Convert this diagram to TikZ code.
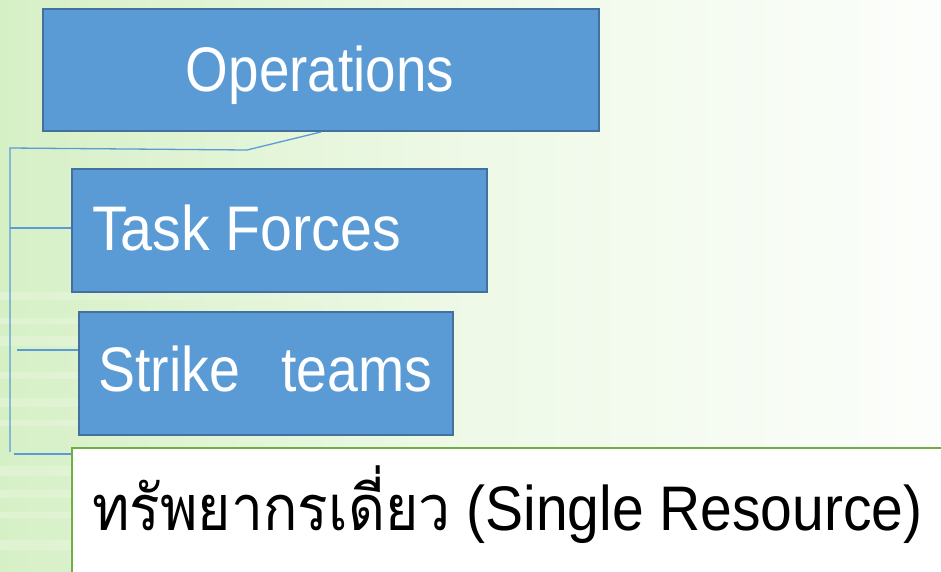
\documentclass[tikz,border=0pt]{standalone}
\usepackage{fontspec}
\setmainfont{Liberation Sans}
\newfontfamily\thaifont[Script=Thai]{Loma}
\usetikzlibrary{fadings}
\definecolor{boxblue}{HTML}{5B9BD5}
\definecolor{boxedge}{HTML}{41719C}
\definecolor{resgreen}{HTML}{70AD47}
\definecolor{linkblue}{HTML}{5B9BD5}
\definecolor{bgleft}{HTML}{D6F0C6}
\definecolor{bgmid}{HTML}{EEF9E7}
\definecolor{bgright}{HTML}{FCFEFB}
\newcommand\narrowtxt[2][0.89]{\scalebox{#1}[1]{#2}}
\tikzset{
  bluebox/.style={draw=boxedge, fill=boxblue, line width=2pt, inner sep=0pt, anchor=north west},
  resbox/.style={draw=resgreen, fill=white, line width=2pt, inner sep=0pt, anchor=north west},
  bigtxt/.style={font=\fontsize{63}{70}\selectfont, inner sep=0pt},
  link/.style={draw=linkblue, line width=1.3pt},
  band/.style={fill=white, opacity=0.22, path fading=east}
}
\begin{document}
\begin{tikzpicture}[x=1pt,y=-1pt]
\useasboundingbox (0,0) rectangle (941,571);
\shade[left color=bgleft, right color=bgmid] (0,0) rectangle (470,571);
\shade[left color=bgmid, right color=bgright] (470,0) rectangle (941,571);
\foreach \yy/\hh in {292/8, 318/6, 336/10, 372/7, 398/9, 420/6, 466/10, 490/8, 512/6, 540/10}
  \fill[band] (0,\yy) rectangle (420,\yy+\hh);

% boxes
\node[bluebox, minimum width=556pt, minimum height=122pt] (ops) at (42,8) {};
\node[bluebox, minimum width=415pt, minimum height=123pt] (task) at (71,168) {};
\node[bluebox, minimum width=374pt, minimum height=123pt] (strike) at (78,311) {};
\node[resbox, minimum width=890pt, minimum height=140pt] (single) at (71,447) {};

% labels
\node[bigtxt, text=white, anchor=base] (opslbl) at (320,91) {\narrowtxt[0.87]{Operations}};
\node[bigtxt, text=white, anchor=base west] (tasklbl) at (92,250) {\narrowtxt[0.91]{Task Forces}};
\node[bigtxt, text=white, anchor=base west] (strikelbl) at (98,391) {\narrowtxt[0.88]{Strike\hspace{0.75em}teams}};
\node[bigtxt, text=black, anchor=base west] (singlelbl) at (92,530) {\narrowtxt[0.905]{{\thaifont ทรัพยากรเดี่ยว} (Single Resource)}};

% connectors
\coordinate (bend) at (247,150);
\coordinate (bustop) at (10,148);
\coordinate (busbot) at (10,452);
\coordinate (tstub) at (10,228);
\coordinate (sstub) at (17,350);
\coordinate (rstub) at (14,454);
\draw[link] (ops.south) -- (bend) -- (bustop) -- (busbot);
\draw[link] (tstub) -- (task.west |- tstub);
\draw[link] (sstub) -- (strike.west |- sstub);
\draw[link] (rstub) -- (single.west |- rstub);
\end{tikzpicture}
\end{document}
